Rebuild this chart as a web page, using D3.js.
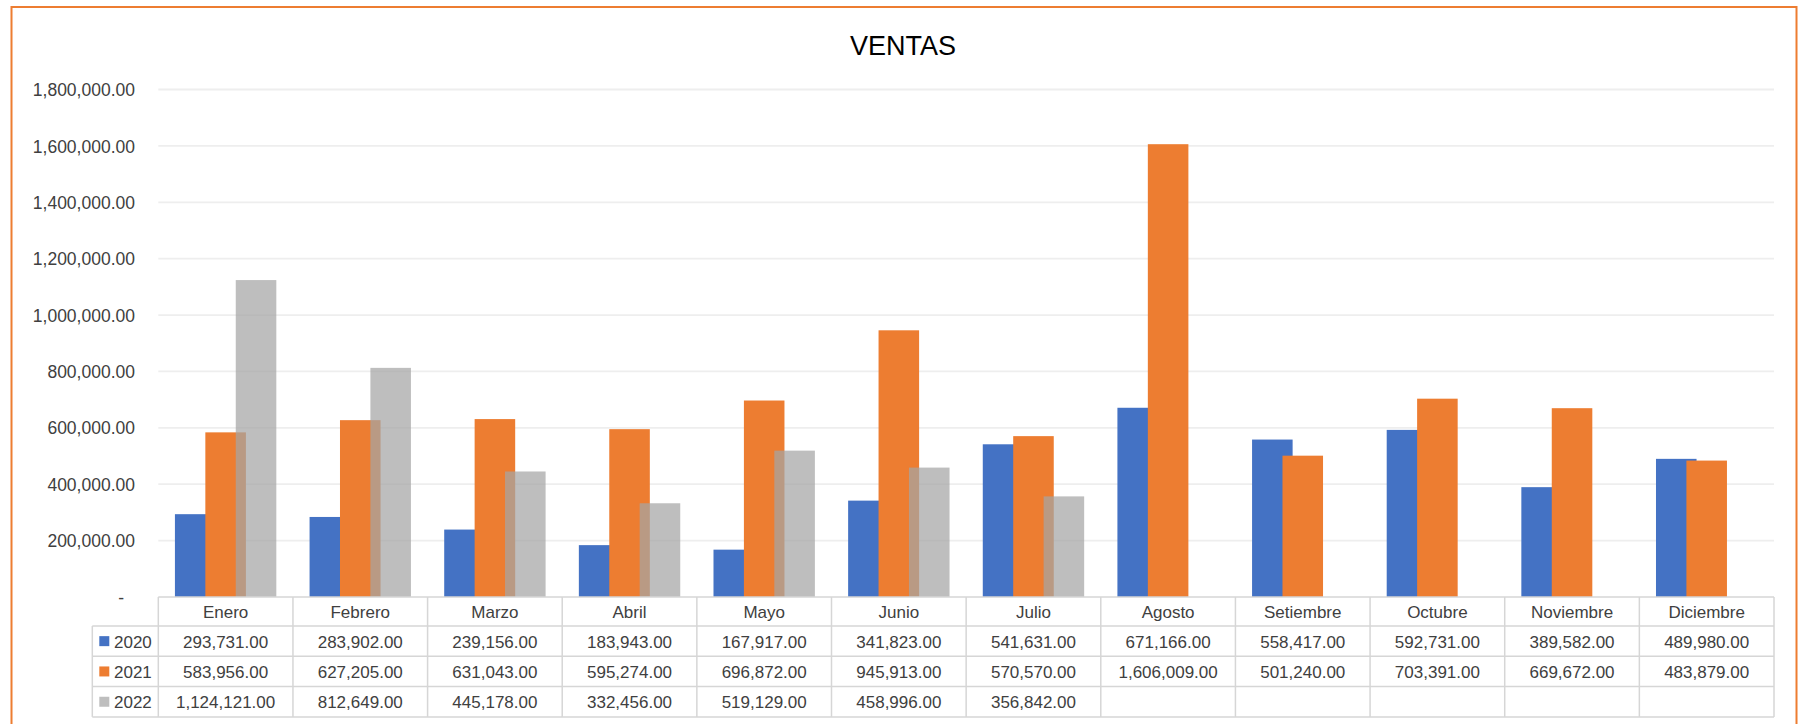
<!DOCTYPE html>
<html>
<head>
<meta charset="utf-8">
<script src="https://cdn.jsdelivr.net/npm/d3@7"></script>
<style>
  html, body { margin: 0; padding: 0; background: #ffffff; }
  svg { display: block; }
  text { font-family: "Liberation Sans", Arial, sans-serif; fill: #404040; }
</style>
</head>
<body>
<svg id="chart" width="1798" height="724"></svg>
<script>
const title = "VENTAS";
const months = ["Enero","Febrero","Marzo","Abril","Mayo","Junio","Julio","Agosto","Setiembre","Octubre","Noviembre","Diciembre"];
const seriesNames = ["2020","2021","2022"];
const values2020 = [293731,283902,239156,183943,167917,341823,541631,671166,558417,592731,389582,489980];
const values2021 = [583956,627205,631043,595274,696872,945913,570570,1606009,501240,703391,669672,483879];
const values2022 = [1124121,812649,445178,332456,519129,458996,356842,null,null,null,null,null];
const yTicks = [0,200000,400000,600000,800000,1000000,1200000,1400000,1600000,1800000];
const seriesColors = ["#4472C4","#ED7D31","#A5A5A5"];
const seriesOpacity = [1,1,0.72];

const allSeries = [values2020, values2021, values2022];

const svg = d3.select("#chart");
const W = 1798, H = 724;

// chart area border
svg.append("rect")
  .attr("x", 11.5).attr("y", 7)
  .attr("width", 1785).attr("height", 740)
  .attr("fill", "#ffffff")
  .attr("stroke", "#ED7D31").attr("stroke-width", 2);

// title
svg.append("text")
  .attr("x", 903).attr("y", 55)
  .attr("text-anchor", "middle")
  .style("font-size", "27px")
  .style("fill", "#000000")
  .text(title);

const plotLeft = 158.3, plotRight = 1774;
const x = d3.scaleBand().domain(months).range([plotLeft, plotRight]).padding(0);
const y = d3.scaleLinear().domain([0, 1800000]).range([597, 89.5]);

// gridlines
svg.append("g").selectAll("line")
  .data(yTicks.filter(d => d > 0))
  .join("line")
  .attr("x1", plotLeft).attr("x2", plotRight)
  .attr("y1", d => y(d)).attr("y2", d => y(d))
  .attr("stroke", "#eeeeee").attr("stroke-width", 1.8);

// y axis labels
const yAxis = d3.axisLeft(y)
  .tickValues(yTicks)
  .tickSize(0)
  .tickPadding(0)
  .tickFormat(d => d === 0 ? "-" : d3.format(",.2f")(d));
const yg = svg.append("g").attr("transform", "translate(135,0)").call(yAxis);
yg.select(".domain").remove();
yg.selectAll("text")
  .style("font-size", "17.5px")
  .style("fill", "#404040")
  .attr("dy", "0.35em")
  .attr("x", d => d === 0 ? -11 : 0);

// bars
const bw = x.bandwidth();
const overlap = 0.25, gapW = 0.82;
const barW = bw / (3 - 2 * overlap + gapW);
const step = barW * (1 - overlap);
const groupW = barW + 2 * step;
const off = (bw - groupW) / 2;

allSeries.forEach((vals, si) => {
  svg.append("g").selectAll("rect")
    .data(months.map((m, i) => ({ m, v: vals[i] })).filter(d => d.v !== null))
    .join("rect")
    .attr("x", d => x(d.m) + off + si * step)
    .attr("width", barW)
    .attr("y", d => y(d.v))
    .attr("height", d => y(0) - y(d.v))
    .attr("fill", seriesColors[si])
    .attr("fill-opacity", seriesOpacity[si]);
});

// data table
const tableTop = 597, headerH = 29, rowH = 30.3;
const legendLeft = 92.3;
const lineColor = "#d6d6d6";
const tg = svg.append("g");

// horizontal lines
tg.append("line").attr("x1", plotLeft).attr("x2", plotRight)
  .attr("y1", tableTop).attr("y2", tableTop)
  .attr("stroke", lineColor).attr("stroke-width", 1.5);
for (let r = 0; r <= 3; r++) {
  const yy = tableTop + headerH + r * rowH;
  tg.append("line").attr("x1", legendLeft).attr("x2", plotRight)
    .attr("y1", yy).attr("y2", yy)
    .attr("stroke", lineColor).attr("stroke-width", 1.5);
}
const tableBottom = tableTop + headerH + 3 * rowH;
// vertical lines
const bounds = months.map(m => x(m)).concat([plotRight]);
bounds.forEach(bx => {
  tg.append("line").attr("x1", bx).attr("x2", bx)
    .attr("y1", tableTop).attr("y2", tableBottom)
    .attr("stroke", lineColor).attr("stroke-width", 1.5);
});
tg.append("line").attr("x1", legendLeft).attr("x2", legendLeft)
  .attr("y1", tableTop + headerH).attr("y2", tableBottom)
  .attr("stroke", lineColor).attr("stroke-width", 1.5);

// header labels
tg.selectAll("text.hdr")
  .data(months).join("text")
  .attr("class", "hdr")
  .attr("x", d => x(d) + bw / 2)
  .attr("y", tableTop + headerH / 2 + 6.5)
  .attr("text-anchor", "middle")
  .style("font-size", "17px")
  .text(d => d);

const fmt = d3.format(",.2f");
allSeries.forEach((vals, si) => {
  const rowMid = tableTop + headerH + si * rowH + rowH / 2;
  // legend key
  tg.append("rect")
    .attr("x", 99.3).attr("y", rowMid - 5)
    .attr("width", 10).attr("height", 10)
    .attr("fill", seriesColors[si])
    .attr("fill-opacity", seriesOpacity[si]);
  tg.append("text")
    .attr("x", 114).attr("y", rowMid + 6.5)
    .style("font-size", "17px")
    .text(seriesNames[si]);
  tg.append("g").selectAll("text")
    .data(months.map((m, i) => ({ m, v: vals[i] })).filter(d => d.v !== null))
    .join("text")
    .attr("x", d => x(d.m) + bw / 2)
    .attr("y", rowMid + 6.5)
    .attr("text-anchor", "middle")
    .style("font-size", "17px")
    .text(d => fmt(d.v));
});
</script>
</body>
</html>
